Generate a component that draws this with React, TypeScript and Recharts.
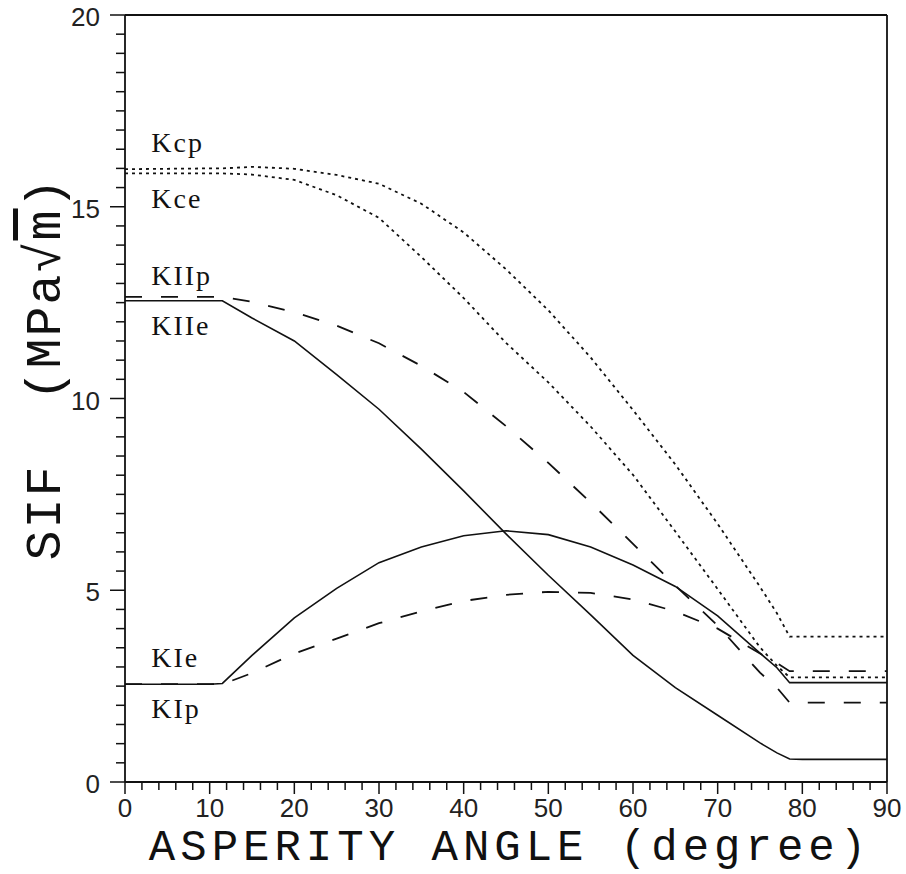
import { LineChart, Line, XAxis, YAxis, ReferenceLine, ReferenceDot, Label } from "recharts";

const angle = [0, 5, 10, 11.5, 15, 20, 25, 30, 35, 40, 45, 50, 55, 60, 65, 70, 75, 77, 78.5, 80, 85, 90];

const kcp = [15.98, 15.99, 16.0, 16.0, 16.04, 15.99, 15.83, 15.6, 15.08, 14.33, 13.37, 12.3, 11.07, 9.7, 8.28, 6.73, 5.09, 4.4, 3.79, 3.79, 3.79, 3.79];
const kce = [15.87, 15.87, 15.87, 15.87, 15.84, 15.7, 15.3, 14.71, 13.69, 12.62, 11.45, 10.42, 9.27, 8.01, 6.53, 5.03, 3.51, 3.03, 2.73, 2.73, 2.73, 2.73];
const kiip = [12.65, 12.65, 12.65, 12.65, 12.52, 12.25, 11.9, 11.44, 10.85, 10.17, 9.28, 8.32, 7.29, 6.21, 5.12, 4.08, 2.85, 2.46, 2.07, 2.07, 2.07, 2.07];
const kiie = [12.55, 12.55, 12.55, 12.55, 12.1, 11.5, 10.62, 9.72, 8.68, 7.59, 6.47, 5.39, 4.36, 3.3, 2.46, 1.74, 1.02, 0.76, 0.6, 0.59, 0.59, 0.59];
const kie = [2.55, 2.55, 2.55, 2.57, 3.3, 4.28, 5.05, 5.72, 6.13, 6.42, 6.55, 6.45, 6.13, 5.66, 5.1, 4.33, 3.36, 2.98, 2.59, 2.59, 2.59, 2.59];
const kip = [2.55, 2.55, 2.55, 2.55, 2.84, 3.35, 3.74, 4.14, 4.45, 4.72, 4.88, 4.96, 4.93, 4.76, 4.45, 4.0, 3.35, 3.1, 2.89, 2.89, 2.89, 2.89];

// curve annotations
const labelNames = ["Kcp", "Kce", "KIIp", "KIIe", "KIe", "KIp"];
const labelX = [3.1, 3.1, 3.1, 3.1, 3.1, 3.1];
const labelY = [16.43, 14.97, 12.96, 11.66, 3.0, 1.67];

const xTicks = Array.from({ length: 46 }, (_, i) => i * 2);
const yTicks = Array.from({ length: 41 }, (_, i) => i * 0.5);

const data = angle.map((a, i) => ({
  angle: a,
  kcp: kcp[i],
  kce: kce[i],
  kiip: kiip[i],
  kiie: kiie[i],
  kie: kie[i],
  kip: kip[i],
}));

const INK = "#111";
const DASH = "17 19";
const DOT = "3 4";

function XTick(props: any) {
  const { x, y, payload } = props;
  const major = payload.value % 10 === 0;
  return (
    <g>
      <line x1={x} x2={x} y1={y} y2={y + (major ? 12 : 8)} stroke={INK} strokeWidth={1.5} />
      {major && (
        <text x={x} y={y + 35} textAnchor="middle" fontFamily="Liberation Sans" fontSize={26} fill="#222">
          {payload.value}
        </text>
      )}
    </g>
  );
}

function YTick(props: any) {
  const { x, y, payload } = props;
  const major = payload.value % 5 === 0;
  return (
    <g>
      <line x1={x} x2={x - (major ? 15 : 9)} y1={y} y2={y} stroke={INK} strokeWidth={1.5} />
      {major && (
        <text x={x - 25} y={y + 11} textAnchor="end" fontFamily="Liberation Sans" fontSize={26} fill="#222">
          {payload.value}
        </text>
      )}
    </g>
  );
}

function XTitle(props: any) {
  const { viewBox } = props;
  return (
    <text
      x={viewBox.x + viewBox.width / 2 + 4}
      y={viewBox.y + 78}
      textAnchor="middle"
      fontFamily="Liberation Mono"
      fontSize={44}
      letterSpacing={5}
      fill={INK}
    >
      ASPERITY ANGLE (degree)
    </text>
  );
}

function YTitle(props: any) {
  const { viewBox } = props;
  const cx = viewBox.x - 5;
  const cy = viewBox.y + viewBox.height / 2 - 30;
  return (
    <text
      x={cx}
      y={cy}
      transform={`rotate(-90 ${cx} ${cy})`}
      textAnchor="middle"
      fontFamily="Liberation Mono"
      fontSize={50}
      letterSpacing={2}
      fill={INK}
      style={{ whiteSpace: "pre" }}
    >
      {"SIF  (MPa√"}
      <tspan style={{ textDecoration: "overline" }}>m</tspan>)
    </text>
  );
}

export default function App() {
  return (
    <div style={{ position: "absolute", left: 0, top: 0 }}>
      <LineChart width={906} height={874} data={data} margin={{ top: 15, right: 19, bottom: 0, left: 65 }}>
        <XAxis
          dataKey="angle"
          type="number"
          domain={[0, 90]}
          ticks={xTicks}
          interval={0}
          tickSize={0}
          tickMargin={0}
          tickLine={false}
          tick={<XTick />}
          axisLine={{ stroke: INK, strokeWidth: 1.8 }}
          height={92}
          allowDataOverflow
        >
          <Label content={<XTitle />} />
        </XAxis>
        <YAxis
          type="number"
          domain={[0, 20]}
          ticks={yTicks}
          interval={0}
          tickSize={0}
          tickMargin={0}
          tickLine={false}
          tick={<YTick />}
          axisLine={{ stroke: INK, strokeWidth: 1.8 }}
          width={60}
          allowDataOverflow
        >
          <Label content={<YTitle />} />
        </YAxis>
        <ReferenceLine y={20} stroke={INK} strokeWidth={1.8} />
        <ReferenceLine x={90} stroke={INK} strokeWidth={1.8} />

        <Line type="linear" dataKey="kcp" stroke={INK} strokeWidth={1.8} strokeDasharray={DOT} dot={false} isAnimationActive={false} />
        <Line type="linear" dataKey="kce" stroke={INK} strokeWidth={1.8} strokeDasharray={DOT} dot={false} isAnimationActive={false} />
        <Line type="linear" dataKey="kiip" stroke={INK} strokeWidth={1.8} strokeDasharray={DASH} dot={false} isAnimationActive={false} />
        <Line type="linear" dataKey="kiie" stroke={INK} strokeWidth={1.6} dot={false} isAnimationActive={false} />
        <Line type="linear" dataKey="kie" stroke={INK} strokeWidth={1.6} dot={false} isAnimationActive={false} />
        <Line type="linear" dataKey="kip" stroke={INK} strokeWidth={1.8} strokeDasharray={DASH} dot={false} isAnimationActive={false} />

        {labelNames.map((name, i) => (
          <ReferenceDot
            key={name}
            x={labelX[i]}
            y={labelY[i]}
            r={0}
            fill="none"
            stroke="none"
            label={{
              value: name,
              position: "insideBottomLeft",
              offset: 0,
              fontFamily: "Liberation Serif",
              fontSize: 28,
              letterSpacing: 2,
              fill: INK,
            }}
          />
        ))}
      </LineChart>
    </div>
  );
}
